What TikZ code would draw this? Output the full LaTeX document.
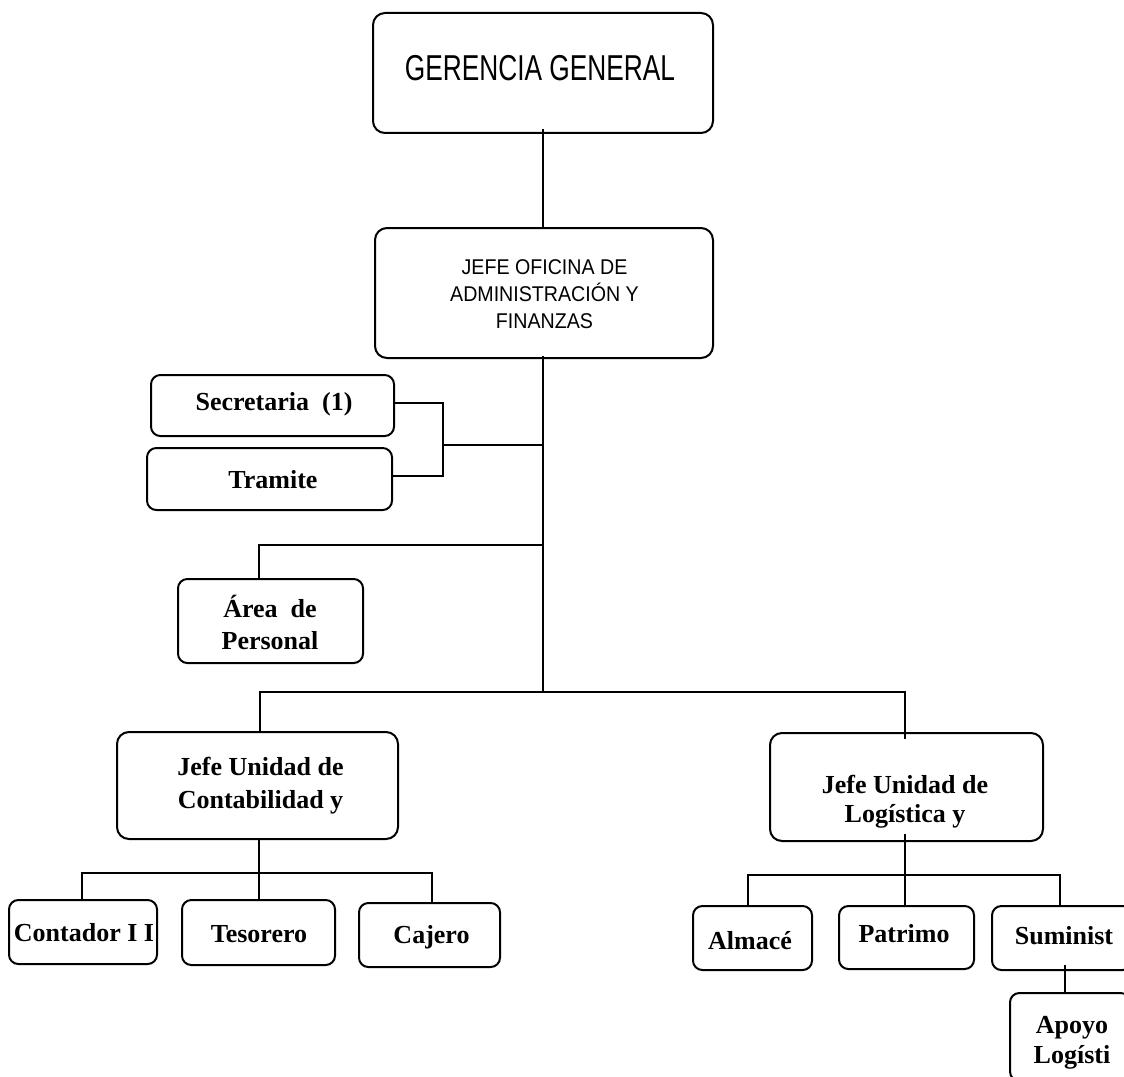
\documentclass[tikz,border=0pt]{standalone}
\usepackage{fontspec}
\setmainfont{Liberation Serif}
\newfontfamily\ggfont[FakeStretch=0.73]{Liberation Sans}
\newfontfamily\ofifont[FakeStretch=0.92]{Liberation Sans}
\begin{document}
\begin{tikzpicture}[x=0.75pt,y=-0.75pt,
  box/.style={draw, line width=1.5pt, rounded corners=7pt, inner sep=0pt},
  bigbox/.style={box, rounded corners=9pt},
  lbl/.style={font=\bfseries\fontsize{19.5}{24}\selectfont, align=center, inner sep=0pt},
  wire/.style={line width=1.5pt}]
\useasboundingbox (0,0) rectangle (1124,1077);
\clip (0,0) rectangle (1124,1077);

% boxes
\node[bigbox, minimum width=340*0.75pt, minimum height=120*0.75pt] (gg)   at (543,73)     {};
\node[bigbox, minimum width=338*0.75pt, minimum height=130*0.75pt] (jefe) at (544,293)    {};
\node[box, minimum width=243*0.75pt, minimum height=61*0.75pt]     (sec)  at (272.5,405.5){};
\node[box, minimum width=245*0.75pt, minimum height=62*0.75pt]     (tra)  at (269.5,479)  {};
\node[box, minimum width=185*0.75pt, minimum height=84*0.75pt]     (per)  at (270.5,621)  {};
\node[bigbox, minimum width=281*0.75pt, minimum height=107*0.75pt] (cont) at (257.5,785.5){};
\node[bigbox, minimum width=273*0.75pt, minimum height=108*0.75pt] (log)  at (906.5,787)  {};
\node[box, minimum width=148*0.75pt, minimum height=64*0.75pt]     (ctd)  at (83,932)     {};
\node[box, minimum width=153*0.75pt, minimum height=65*0.75pt]     (tes)  at (258.5,932.5){};
\node[box, minimum width=141*0.75pt, minimum height=64*0.75pt]     (caj)  at (429.5,935)  {};
\node[box, minimum width=119*0.75pt, minimum height=64*0.75pt]     (alm)  at (752.5,938)  {};
\node[box, minimum width=135*0.75pt, minimum height=63*0.75pt]     (pat)  at (906.5,937.5){};
\node[box, minimum width=140*0.75pt, minimum height=64*0.75pt]     (sum)  at (1062,938)   {};
\node[box, minimum width=120*0.75pt, minimum height=88*0.75pt]     (apo)  at (1070,1037)  {};

% captions
\node[inner sep=0pt, font=\ggfont\fontsize{27}{30}\selectfont] (ggt) at (540,68) {GERENCIA GENERAL};
\node[inner sep=0pt, align=center, font=\ofifont\fontsize{16}{20}\selectfont] (jefet) at (544.5,294)
  {JEFE OFICINA DE\\ADMINISTRACIÓN Y\\FINANZAS};
\node[lbl] (sect)  at (274,404)     {Secretaria\ \ (1)};
\node[lbl] (trat)  at (273,480)     {Tramite};
\node[lbl] (pert)  at (270,622.5)   {Área\ \ de\\Personal};
\node[lbl, font=\bfseries\fontsize{19.5}{24.75}\selectfont] (contt) at (260.5,786) {Jefe Unidad de\\Contabilidad y};
\node[lbl, font=\bfseries\fontsize{19.5}{22}\selectfont]    (logt)  at (905,801.5)   {Jefe Unidad de\\Logística y};
\node[lbl] (ctdt)  at (84,933)      {Contador I I};
\node[lbl] (test)  at (259,934)     {Tesorero};
\node[lbl] (cajt)  at (431.5,937)   {Cajero};
\node[lbl] (almt)  at (750,941)     {Almacé};
\node[lbl] (patt)  at (904,934)     {Patrimo};
\node[lbl] (sumt)  at (1064,936)    {Suminist};
\node[lbl, font=\bfseries\fontsize{19.5}{22.5}\selectfont] (apot) at (1072,1043) {Apoyo\\Logísti};

% junction points
\coordinate (spine) at (543,692);
\coordinate (brk)   at (443,445);
\coordinate (pj)    at (259,545);
\coordinate (bl)    at (260,692);
\coordinate (br)    at (905,692);
\coordinate (cb)    at (259,873);
\coordinate (lb)    at (905,875);
\coordinate (sa)    at (1065,965);

% connectors
\draw[wire] ([yshift=5*0.75pt]gg.south) -- (gg.south |- jefe.north);
\draw[wire] ([yshift=3*0.75pt]jefe.south -| spine) -- (spine);
\draw[wire] ([yshift=2.5*0.75pt]sec.east) -- ([yshift=2.5*0.75pt]sec.east -| brk) -- ([yshift=3*0.75pt]tra.east -| brk) -- ([yshift=3*0.75pt]tra.east);
\draw[wire] (brk) -- (brk -| spine);
\draw[wire] (pj -| spine) -- (pj) -- (pj |- per.north);
\draw[wire] (cont.north -| bl) -- (bl) -- (br) -- ([yshift=-7*0.75pt]br |- log.north);
\draw[wire] (cont.south -| cb) -- (cb);
\draw[wire] (ctd.north -| 82,0) -- (82,873) -- (432,873) -- (caj.north -| 432,0);
\draw[wire] (tes.north -| cb) -- (cb);
\draw[wire] ([yshift=8*0.75pt]log.south -| lb) -- (lb);
\draw[wire] (alm.north -| 748,0) -- (748,875) -- (1060,875) -- (sum.north -| 1060,0);
\draw[wire] (pat.north -| lb) -- (lb);
\draw[wire] (sa) -- (apo.north -| sa);
\end{tikzpicture}
\end{document}
